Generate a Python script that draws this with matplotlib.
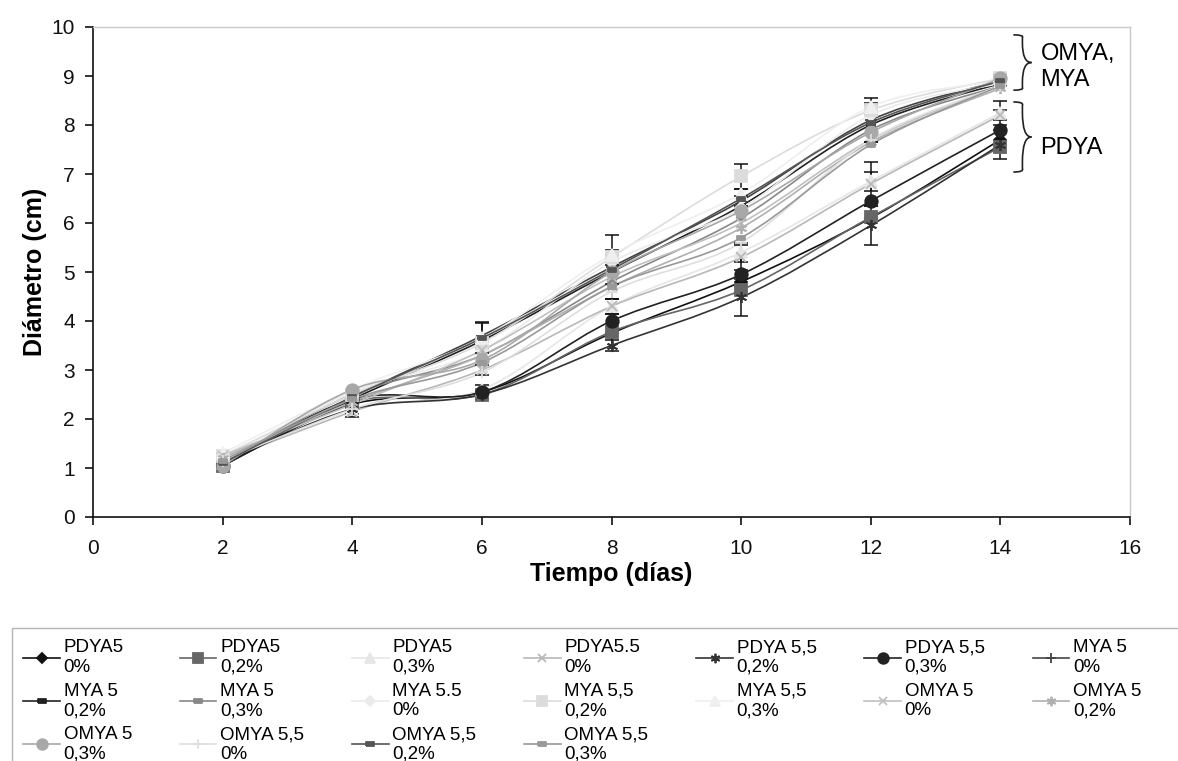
# ------------------------------------------------------------------ IMPORTS
import matplotlib
matplotlib.use('Agg')
import matplotlib.pyplot as plt
from matplotlib.path import Path
from matplotlib.patches import PathPatch, Rectangle
from matplotlib.lines import Line2D
import numpy as np

plt.rcParams['font.family'] = ['Liberation Sans', 'DejaVu Sans']

# --------------------------------------------------------------------- DATA
dias = [2, 4, 6, 8, 10, 12, 14]

labels = ['PDYA5\n0%', 'PDYA5\n0,2%', 'PDYA5\n0,3%', 'PDYA5.5\n0%',
          'PDYA 5,5\n0,2%', 'PDYA 5,5\n0,3%', 'MYA 5\n0%', 'MYA 5\n0,2%',
          'MYA 5\n0,3%', 'MYA 5.5\n0%', 'MYA 5,5\n0,2%', 'MYA 5,5\n0,3%',
          'OMYA 5\n0%', 'OMYA 5\n0,2%', 'OMYA 5\n0,3%', 'OMYA 5,5\n0%',
          'OMYA 5,5\n0,2%', 'OMYA 5,5\n0,3%']

pdya5_0 = [1.05, 2.30, 2.55, 3.75, 4.80, 6.10, 7.70]
pdya5_02 = [1.05, 2.35, 2.50, 3.78, 4.63, 6.12, 7.55]
pdya5_03 = [1.10, 2.20, 2.60, 4.30, 5.40, 6.85, 8.25]
pdya55_0 = [1.15, 2.15, 3.00, 4.30, 5.30, 6.80, 8.20]
pdya55_02 = [1.10, 2.20, 2.50, 3.50, 4.48, 5.95, 7.60]
pdya55_03 = [1.05, 2.40, 2.55, 4.00, 4.95, 6.45, 7.90]
mya5_0 = [1.10, 2.45, 3.70, 5.10, 6.45, 8.10, 8.90]
mya5_02 = [1.05, 2.40, 3.60, 5.00, 6.35, 8.00, 8.85]
mya5_03 = [1.10, 2.50, 3.30, 4.80, 6.10, 7.90, 8.80]
mya55_0 = [1.20, 2.55, 3.40, 5.20, 6.30, 8.20, 8.85]
mya55_02 = [1.25, 2.50, 3.55, 5.30, 6.95, 8.30, 8.95]
mya55_03 = [1.30, 2.60, 3.65, 5.35, 6.60, 8.37, 8.90]
omya5_0 = [1.25, 2.30, 3.40, 4.90, 6.00, 7.70, 8.80]
omya5_02 = [1.20, 2.35, 3.30, 4.70, 5.90, 7.65, 8.75]
omya5_03 = [1.05, 2.60, 3.20, 5.00, 6.25, 7.85, 8.95]
omya55_0 = [1.15, 2.20, 2.95, 4.60, 5.60, 7.70, 8.80]
omya55_02 = [1.10, 2.45, 3.65, 5.05, 6.50, 8.05, 8.90]
omya55_03 = [1.15, 2.40, 3.15, 4.70, 5.70, 7.60, 8.80]

series = [pdya5_0, pdya5_02, pdya5_03, pdya55_0, pdya55_02, pdya55_03,
          mya5_0, mya5_02, mya5_03, mya55_0, mya55_02, mya55_03,
          omya5_0, omya5_02, omya5_03, omya55_0, omya55_02, omya55_03]

# desviaciones (solo las visibles)
err_pdya55_02 = [0.05, 0.10, 0.10, 0.12, 0.38, 0.40, 0.30]
err_pdya55_0 = [0.05, 0.10, 0.10, 0.15, 0.25, 0.45, 0.10]
err_pdya5_03 = [0.05, 0.10, 0.10, 0.15, 0.20, 0.20, 0.25]
err_mya55_02 = [0.05, 0.10, 0.10, 0.15, 0.25, 0.10, 0.10]
err_mya5_0 = [0.05, 0.15, 0.28, 0.65, 0.10, 0.45, 0.10]
err_omya55_02 = [0.05, 0.10, 0.30, 0.30, 0.20, 0.40, 0.10]
errors = {4: err_pdya55_02, 3: err_pdya55_0, 2: err_pdya5_03,
          10: err_mya55_02, 6: err_mya5_0, 16: err_omya55_02}

# -------------------------------------------------------------------- STYLE
dash = [(-1, -0.45), (1, -0.45), (1, 0.45), (-1, 0.45), (-1, -0.45)]
colors = ['#111111', '#666666', '#e6e6e6', '#b8b8b8', '#333333', '#222222',
          '#444444', '#222222', '#888888', '#ebebeb', '#dcdcdc', '#efefef',
          '#c0c0c0', '#b0b0b0', '#a8a8a8', '#dedede', '#555555', '#999999']
markers = ['D', 's', '^', 'x', (6, 2, 0), 'o',
           '+', dash, dash, 'D', 's', '^',
           'x', (6, 2, 0), 'o', '+', dash, dash]
msizes = [6, 8, 8, 7, 8, 9, 9, 6, 6, 6, 8, 8, 7, 8, 9, 9, 6, 6]


# ------------------------------------------------------------ SMOOTH LINES
def smooth_path(x, y):
	# excel-style smoothed line: catmull-rom as cubic bezier
	p = np.column_stack([x, y]).astype(float)
	ext = np.vstack([p[0], p, p[-1]])
	verts = [p[0]]
	codes = [Path.MOVETO]
	for i in range(len(p) - 1):
		p0, p1, p2, p3 = ext[i], ext[i + 1], ext[i + 2], ext[i + 3]
		c1 = p1 + (p2 - p0) / 6.0
		c2 = p2 - (p3 - p1) / 6.0
		verts += [c1, c2, p2]
		codes += [Path.CURVE4] * 3
	return Path(verts, codes)


def brace(ax, x, y0, y1, w):
	# curly bracket opening to the left, tip to the right
	ym = 0.5 * (y0 + y1)
	h = y1 - y0
	verts = [(x, y1), (x + w * 0.6, y1), (x + w * 0.5, y1 - 0.05 * h), (x + w * 0.5, y1 - 0.15 * h),
	         (x + w * 0.5, ym + 0.35 * h), (x + w * 0.5, ym), (x + w, ym),
	         (x + w * 0.5, ym), (x + w * 0.5, ym - 0.35 * h), (x + w * 0.5, y0 + 0.15 * h),
	         (x + w * 0.5, y0 + 0.05 * h), (x + w * 0.6, y0), (x, y0)]
	codes = [Path.MOVETO, Path.CURVE3, Path.CURVE3, Path.LINETO,
	         Path.LINETO, Path.CURVE3, Path.CURVE3,
	         Path.CURVE3, Path.CURVE3, Path.LINETO,
	         Path.LINETO, Path.CURVE3, Path.CURVE3]
	ax.add_patch(PathPatch(Path(verts, codes), fill=False, lw=1.2, ec='#222222',
	                       clip_on=False, zorder=50))


# --------------------------------------------------------------------- PLOT
fig = plt.figure(figsize=(11.78, 7.61), dpi=100)
ax = fig.add_axes([93 / 1178, 1 - 517 / 761, (1130 - 93) / 1178, (517 - 27) / 761])

handles = []
for i, ys in enumerate(series):
	ax.add_patch(PathPatch(smooth_path(dias, ys), fill=False, ec=colors[i],
	                       lw=1.2, zorder=5 + i * 0.01))
	if i in errors:
		ax.errorbar(dias, ys, yerr=errors[i], fmt='none', ecolor='#111111',
		            elinewidth=1.1, capsize=5, capthick=1.1, zorder=6)
	ax.plot(dias, ys, ls='none', marker=markers[i], ms=msizes[i],
	        color=colors[i], mec=colors[i], mew=1.3, zorder=7 + i * 0.01)
	handles.append(Line2D([], [], color=colors[i], lw=1.2, marker=markers[i],
	                      ms=msizes[i] * 0.85, mec=colors[i], mew=1.3))

ax.set_xlim(0, 16)
ax.set_ylim(0, 10)
ax.set_xticks(np.arange(0, 17, 2))
ax.set_yticks(np.arange(0, 11, 1))
ax.tick_params(axis='both', direction='out', length=6, width=1.2, labelsize=15,
               colors='#111111')
ax.tick_params(axis='x', pad=10)
ax.tick_params(axis='y', pad=7)
for s in ['left', 'bottom']:
	ax.spines[s].set_linewidth(1.2)
	ax.spines[s].set_color('#111111')
for s in ['top', 'right']:
	ax.spines[s].set_linewidth(1.0)
	ax.spines[s].set_color('#c8c8c8')

ax.set_xlabel('Tiempo (días)', fontsize=18, fontweight='bold', labelpad=3)
ax.set_ylabel('Diámetro (cm)', fontsize=18, fontweight='bold', labelpad=3)

# annotations
brace(ax, 14.2, 8.71, 9.84, 0.28)
brace(ax, 14.2, 7.04, 8.47, 0.28)
ax.text(14.62, 9.18, 'OMYA,\nMYA', fontsize=17, va='center', ha='left',
        linespacing=1.2, clip_on=False)
ax.text(14.62, 7.53, 'PDYA', fontsize=17, va='center', ha='left', clip_on=False)

# legend, row-major order
order = [0, 7, 14, 1, 8, 15, 2, 9, 16, 3, 10, 17, 4, 11, 5, 12, 6, 13]
leg = fig.legend([handles[k] for k in order], [labels[k] for k in order],
                 ncol=7, loc='upper left', bbox_to_anchor=(14 / 1178, 1 - 630 / 761),
                 frameon=False, fontsize=13.5, handlelength=1.95, handletextpad=0.2,
                 columnspacing=2.55, labelspacing=0.36, borderpad=0.0)
fig.patches.append(Rectangle((12 / 1178, -0.1), 1.2, 0.1 + 1 - 628 / 761,
                             transform=fig.transFigure, fill=False,
                             ec='#b4b4b4', lw=1.0))

fig.savefig('out.png', dpi=100)
